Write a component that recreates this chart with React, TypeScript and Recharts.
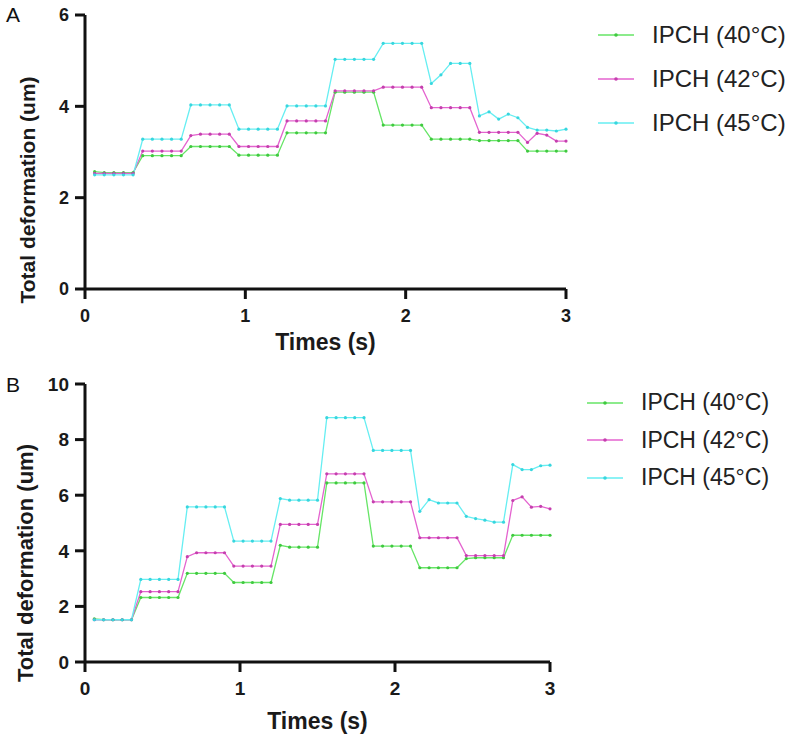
import React from 'react';
import { LineChart, Line, XAxis, YAxis, Legend, Label } from 'recharts';

const times = [
  0.06, 0.12, 0.18, 0.24, 0.3, 0.36, 0.42, 0.48, 0.54, 0.6,
  0.66, 0.72, 0.78, 0.84, 0.9, 0.96, 1.02, 1.08, 1.14, 1.2,
  1.26, 1.32, 1.38, 1.44, 1.5, 1.56, 1.62, 1.68, 1.74, 1.8,
  1.86, 1.92, 1.98, 2.04, 2.1, 2.16, 2.22, 2.28, 2.34, 2.4,
  2.46, 2.52, 2.58, 2.64, 2.7, 2.76, 2.82, 2.88, 2.94, 3.0,
];

const xTicks = [0, 1, 2, 3];
const yTicksA = [0, 2, 4, 6];
const yTicksB = [0, 2, 4, 6, 8, 10];

const seriesNames = ['IPCH (40°C)', 'IPCH (42°C)', 'IPCH (45°C)'];

// panel A
const a40 = [
  2.57, 2.55, 2.55, 2.55, 2.55, 2.92, 2.92, 2.92, 2.92, 2.92,
  3.12, 3.12, 3.12, 3.12, 3.12, 2.93, 2.93, 2.93, 2.93, 2.93,
  3.42, 3.42, 3.42, 3.42, 3.42, 4.31, 4.31, 4.31, 4.31, 4.31,
  3.59, 3.59, 3.59, 3.59, 3.59, 3.28, 3.28, 3.28, 3.28, 3.28,
  3.25, 3.25, 3.25, 3.25, 3.25, 3.02, 3.02, 3.02, 3.02, 3.02,
];
const a42 = [
  2.53, 2.53, 2.53, 2.53, 2.53, 3.02, 3.02, 3.02, 3.02, 3.02,
  3.36, 3.39, 3.39, 3.39, 3.39, 3.12, 3.12, 3.12, 3.12, 3.12,
  3.68, 3.68, 3.68, 3.68, 3.68, 4.34, 4.34, 4.34, 4.34, 4.34,
  4.42, 4.42, 4.42, 4.42, 4.42, 3.97, 3.97, 3.97, 3.97, 3.97,
  3.43, 3.43, 3.43, 3.43, 3.43, 3.21, 3.41, 3.37, 3.24, 3.24,
];
const a45 = [
  2.5, 2.5, 2.5, 2.5, 2.5, 3.28, 3.28, 3.28, 3.28, 3.28,
  4.03, 4.03, 4.03, 4.03, 4.03, 3.5, 3.5, 3.5, 3.5, 3.5,
  4.01, 4.01, 4.01, 4.01, 4.01, 5.03, 5.03, 5.03, 5.03, 5.03,
  5.38, 5.38, 5.38, 5.38, 5.38, 4.5, 4.69, 4.94, 4.94, 4.94,
  3.79, 3.88, 3.72, 3.83, 3.75, 3.54, 3.48, 3.48, 3.46, 3.5,
];

// panel B
const b40 = [
  1.55, 1.52, 1.52, 1.52, 1.52, 2.32, 2.32, 2.32, 2.32, 2.32,
  3.19, 3.19, 3.19, 3.19, 3.19, 2.86, 2.86, 2.86, 2.86, 2.86,
  4.2, 4.13, 4.13, 4.13, 4.13, 6.44, 6.44, 6.44, 6.44, 6.44,
  4.17, 4.17, 4.17, 4.17, 4.17, 3.39, 3.39, 3.39, 3.39, 3.39,
  3.72, 3.75, 3.75, 3.75, 3.75, 4.56, 4.56, 4.56, 4.56, 4.56,
];
const b42 = [
  1.52, 1.52, 1.52, 1.52, 1.52, 2.53, 2.53, 2.53, 2.53, 2.53,
  3.79, 3.93, 3.93, 3.93, 3.93, 3.45, 3.45, 3.45, 3.45, 3.45,
  4.95, 4.95, 4.95, 4.95, 4.95, 6.77, 6.77, 6.77, 6.77, 6.77,
  5.76, 5.76, 5.76, 5.76, 5.76, 4.47, 4.47, 4.47, 4.47, 4.47,
  3.83, 3.83, 3.83, 3.83, 3.83, 5.81, 5.94, 5.57, 5.6, 5.51,
];
const b45 = [
  1.52, 1.52, 1.52, 1.52, 1.52, 2.97, 2.97, 2.97, 2.97, 2.97,
  5.58, 5.58, 5.58, 5.58, 5.58, 4.35, 4.35, 4.35, 4.35, 4.35,
  5.88, 5.82, 5.82, 5.82, 5.82, 8.79, 8.79, 8.79, 8.79, 8.79,
  7.61, 7.61, 7.61, 7.61, 7.61, 5.42, 5.84, 5.72, 5.72, 5.72,
  5.24, 5.16, 5.1, 5.03, 5.03, 7.1, 6.92, 6.92, 7.06, 7.08,
];

const FONT = '"Liberation Sans", Arial, sans-serif';
const lineColors = ['#66e566', '#e463cf', '#66eef2'];
const dotColors = ['#3fc93f', '#c53fae', '#38d6de'];

const buildRows = (g: number[], m: number[], c: number[]) =>
  times.map((t, i) => ({ t, g: g[i], m: m[i], c: c[i] }));

const dataA = buildRows(a40, a42, a45);
const dataB = buildRows(b40, b42, b45);

type PanelProps = {
  data: any[];
  yMax: number;
  yTicks: number[];
  height: number;
  margin: { top: number; right: number; left: number; bottom: number };
  xAxisHeight: number;
  tickFont: number;
  titleFont: number;
  yTitleFont: number;
  xTitleDy: number;
  yTitleX: number;
  yTitleDy: number;
  legendLeft: number;
  legendTop: number;
  legendRow: number;
  legendFont: number;
};

function Panel(p: PanelProps) {
  const axisStyle = { stroke: '#111', strokeWidth: 3 };
  const tickStyle = { fill: '#1a1a1a', fontSize: p.tickFont, fontWeight: 700, fontFamily: FONT };

  const renderLegend = (props: any) => (
    <div style={{ fontFamily: FONT, whiteSpace: 'nowrap' }}>
      {props.payload.map((item: any, i: number) => (
        <div key={i} style={{ height: p.legendRow, display: 'flex', alignItems: 'center' }}>
          <svg width={36} height={8} style={{ marginLeft: 8 }}>
            <line x1={0} y1={4} x2={36} y2={4} stroke={item.color} strokeWidth={1.3} />
            <circle cx={18} cy={4} r={1.8} fill={dotColors[i]} />
          </svg>
          <span style={{ marginLeft: 18, fontSize: p.legendFont, color: '#222' }}>{item.value}</span>
        </div>
      ))}
    </div>
  );

  return (
    <LineChart width={797} height={p.height} data={p.data} margin={p.margin}>
      <XAxis
        dataKey="t"
        type="number"
        domain={[0, 3]}
        ticks={xTicks}
        axisLine={axisStyle}
        tickLine={axisStyle}
        tickSize={10}
        tickMargin={10}
        tick={tickStyle}
        height={p.xAxisHeight}
      >
        <Label
          content={({ viewBox }: any) => (
            <text
              x={viewBox.x + viewBox.width / 2}
              y={viewBox.y + p.xTitleDy}
              textAnchor="middle"
              fontFamily={FONT}
              fontWeight={700}
              fontSize={p.titleFont}
              fill="#1a1a1a"
            >
              Times (s)
            </text>
          )}
        />
      </XAxis>
      <YAxis
        type="number"
        domain={[0, p.yMax]}
        ticks={p.yTicks}
        axisLine={axisStyle}
        tickLine={axisStyle}
        tickSize={10}
        tickMargin={6}
        tick={tickStyle}
        width={85}
      >
        <Label
          content={({ viewBox }: any) => {
            const cx = p.yTitleX;
            const cy = viewBox.y + viewBox.height / 2 + p.yTitleDy;
            return (
              <text
                x={cx}
                y={cy}
                transform={`rotate(-90, ${cx}, ${cy})`}
                textAnchor="middle"
                dominantBaseline="central"
                fontFamily={FONT}
                fontWeight={700}
                fontSize={p.yTitleFont}
                fill="#1a1a1a"
              >
                Total deformation (um)
              </text>
            );
          }}
        />
      </YAxis>
      <Legend
        layout="vertical"
        align="center"
        verticalAlign="middle"
        content={renderLegend}
        wrapperStyle={{ left: p.legendLeft, top: p.legendTop }}
      />
      {['g', 'm', 'c'].map((key, i) => (
        <Line
          key={key}
          type="linear"
          dataKey={key}
          name={seriesNames[i]}
          stroke={lineColors[i]}
          strokeWidth={1.3}
          dot={{ r: 1.6, fill: dotColors[i], stroke: 'none' }}
          isAnimationActive={false}
        />
      ))}
    </LineChart>
  );
}

export default function App() {
  return (
    <div style={{ position: 'absolute', left: 0, top: 0, width: 797, height: 743, background: '#fff', fontFamily: FONT }}>
      <div style={{ position: 'absolute', left: 6, top: 4, fontSize: 21, lineHeight: 1, color: '#111' }}>A</div>
      <div style={{ position: 'absolute', left: 6, top: 374, fontSize: 21, lineHeight: 1, color: '#111' }}>B</div>

      {/* panel A */}
      <div style={{ position: 'absolute', left: 0, top: 0 }}>
        <Panel
          data={dataA}
          yMax={6}
          yTicks={yTicksA}
          height={360}
          margin={{ top: 15, right: 231, left: 0, bottom: 0 }}
          xAxisHeight={71}
          tickFont={18}
          titleFont={23}
          yTitleFont={21}
          xTitleDy={61}
          yTitleX={27}
          yTitleDy={38}
          legendLeft={590}
          legendTop={13}
          legendRow={44}
          legendFont={24}
        />
      </div>

      {/* panel B */}
      <div style={{ position: 'absolute', left: 0, top: 360 }}>
        <Panel
          data={dataB}
          yMax={10}
          yTicks={yTicksB}
          height={383}
          margin={{ top: 24, right: 247, left: 0, bottom: 0 }}
          xAxisHeight={81}
          tickFont={19}
          titleFont={23}
          yTitleFont={22}
          xTitleDy={67}
          yTitleX={25}
          yTitleDy={40}
          legendLeft={579}
          legendTop={24}
          legendRow={37.5}
          legendFont={23}
        />
      </div>
    </div>
  );
}
